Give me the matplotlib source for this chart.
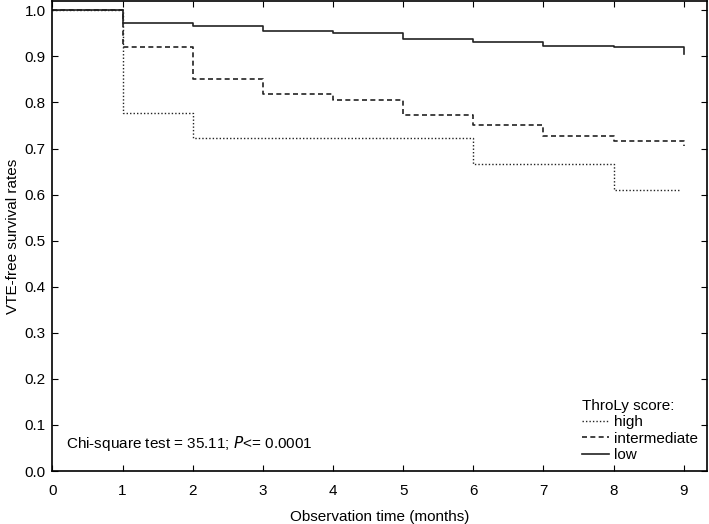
import matplotlib
matplotlib.use("Agg")
import matplotlib.pyplot as plt

plt.rcParams["font.family"] = ["Liberation Sans", "DejaVu Sans"]

# step times (months) and survival values for each ThroLy group
low_t = [0, 1, 2, 3, 4, 5, 6, 7, 8, 9]
low_s = [1.0, 0.973, 0.966, 0.955, 0.950, 0.938, 0.932, 0.923, 0.920, 0.905]
mid_t = [0, 1, 2, 3, 4, 5, 6, 7, 8, 9]
mid_s = [1.0, 0.920, 0.851, 0.818, 0.806, 0.772, 0.751, 0.728, 0.716, 0.705]
high_t = [0, 1, 2, 6, 8, 8.95]
high_s = [1.0, 0.777, 0.722, 0.666, 0.611, 0.611]

fig = plt.figure(figsize=(7.09, 5.24), dpi=100)
ax = fig.add_axes([0.074, 0.101, 0.923, 0.897])

ax.step(high_t, high_s, where="post", color="#222222", lw=1.0, ls=(0, (1, 1.5)), label="high")
ax.step(mid_t, mid_s, where="post", color="#222222", lw=1.2, ls=(0, (3, 2)), label="intermediate")
ax.step(low_t, low_s, where="post", color="#222222", lw=1.2, ls="-", label="low")

ax.set_xlim(0, 9.33)
ax.set_ylim(0, 1.02)
ax.set_xticks(range(10))
ax.set_yticks([i / 10 for i in range(11)])
ax.set_yticklabels([f"{i / 10:.1f}" for i in range(11)])
ax.tick_params(direction="in", top=True, right=True, labelsize=11, length=4, pad=5)
ax.tick_params(axis="x", pad=9)
for s in ax.spines.values():
    s.set_linewidth(1.2)

ax.set_xlabel("Observation time (months)", fontsize=11, labelpad=9)
ax.set_ylabel("VTE-free survival rates", fontsize=11, labelpad=3)

ax.text(0.2, 0.05, "Chi-square test = 35.11; $\\it{P}$<= 0.0001", fontsize=11)

leg = ax.legend(title="ThroLy score:", loc="lower right", frameon=False, fontsize=11,
                title_fontsize=11, handlelength=1.8, handletextpad=0.3,
                labelspacing=0.15, borderaxespad=0.4, borderpad=0.2)
leg._legend_box.align = "left"

fig.savefig("out.png", dpi=100)
